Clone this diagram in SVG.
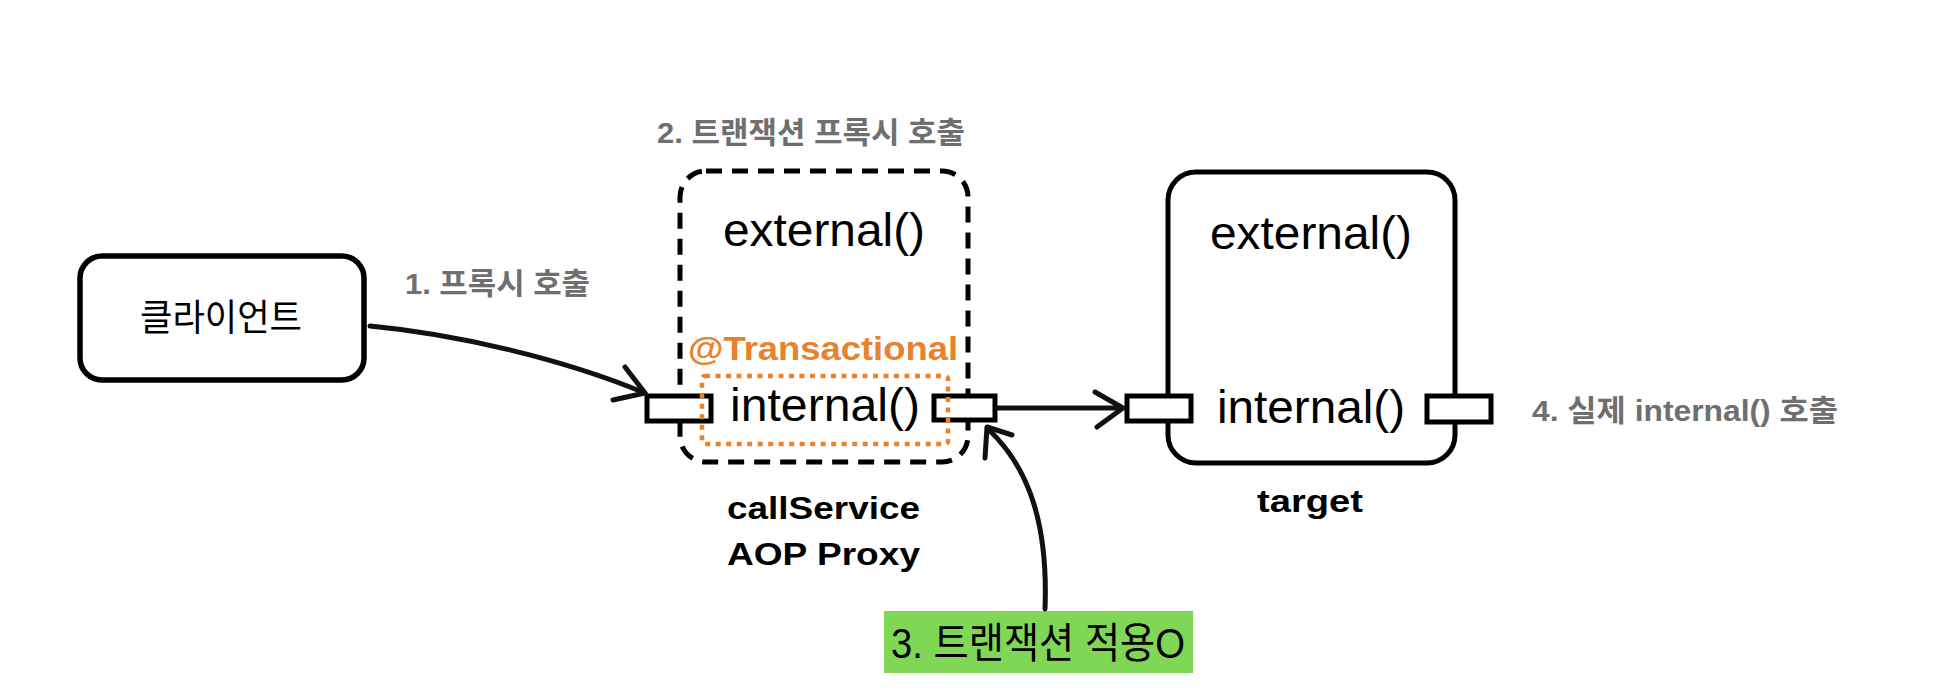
<svg xmlns="http://www.w3.org/2000/svg" width="1960" height="694" viewBox="0 0 1960 694">
<style>
.box{fill:#fff;stroke:#000;stroke-width:5.5}
.port{fill:#fff;stroke:#000;stroke-width:5}
.dash{fill:none;stroke:#000;stroke-width:5;stroke-dasharray:16 10}
.dot{fill:none;stroke:#E9822E;stroke-width:4.5;stroke-dasharray:5 5.5}
.conn{fill:none;stroke:#111;stroke-width:5;stroke-linecap:round;stroke-linejoin:round}
.m{font-family:"Liberation Sans",Arial,sans-serif;fill:#000}
.kr{font-family:"Liberation Sans","Noto Sans CJK KR",sans-serif;fill:#000}
.lbl{font-family:"Liberation Sans","Noto Sans CJK KR",sans-serif;font-weight:bold;fill:#6f6f6f}
.bold{font-family:"Liberation Sans",Arial,sans-serif;font-weight:bold;fill:#000}
</style>
<g id="client">
<rect class="box" x="80" y="256" width="284" height="124" rx="22"/>
<text class="kr" x="140" y="331" font-size="37" textLength="162" lengthAdjust="spacingAndGlyphs">클라이언트</text>
</g>
<g id="proxy">
<rect class="dash" x="680" y="171" width="288" height="291" rx="26"/>
<text class="m" x="723" y="246" font-size="46" textLength="202" lengthAdjust="spacingAndGlyphs">external()</text>
<rect class="port" x="647" y="396" width="64" height="25"/>
<rect class="port" x="934" y="396" width="61" height="24"/>
<text class="m" x="730" y="421" font-size="46" textLength="190" lengthAdjust="spacingAndGlyphs">internal()</text>
<rect class="dot" x="702" y="376" width="246" height="68" rx="3"/>
<text class="bold" x="688" y="360" font-size="34" style="fill:#E9822E" textLength="270" lengthAdjust="spacingAndGlyphs">@Transactional</text>
<text class="bold" x="727" y="519" font-size="32" textLength="193" lengthAdjust="spacingAndGlyphs">callService</text>
<text class="bold" x="727" y="565" font-size="32" textLength="193" lengthAdjust="spacingAndGlyphs">AOP Proxy</text>
</g>
<g id="target">
<rect class="box" x="1168" y="172" width="287" height="291" rx="28" style="stroke-width:5"/>
<text class="m" x="1210" y="249" font-size="46" textLength="202" lengthAdjust="spacingAndGlyphs">external()</text>
<rect class="port" x="1127" y="396" width="64" height="25"/>
<rect class="port" x="1427" y="396" width="64" height="26"/>
<text class="m" x="1217" y="423" font-size="46" textLength="188" lengthAdjust="spacingAndGlyphs">internal()</text>
<text class="bold" x="1257" y="512" font-size="32" textLength="106" lengthAdjust="spacingAndGlyphs">target</text>
</g>
<g id="note-tx">
<rect x="884" y="611" width="309" height="62" fill="#80D655"/>
<text class="kr" x="891" y="658" font-size="42" textLength="294" lengthAdjust="spacingAndGlyphs">3. 트랜잭션 적용O</text>
</g>
<g id="labels">
<text class="lbl" x="657" y="143" font-size="30" textLength="308" lengthAdjust="spacingAndGlyphs">2. 트랜잭션 프록시 호출</text>
<text class="lbl" x="405" y="294" font-size="30" textLength="185" lengthAdjust="spacingAndGlyphs">1. 프록시 호출</text>
<text class="lbl" x="1532" y="421" font-size="30" textLength="306" lengthAdjust="spacingAndGlyphs">4. 실제 internal() 호출</text>
</g>
<g id="connectors">
<path class="conn" d="M370,326 C455,334 560,358 645,393"/>
<path class="conn" d="M625,367 L645,393 L613,400"/>
<path class="conn" d="M997,408 L1121,408"/>
<path class="conn" d="M1095,392 L1123,408 L1097,427"/>
<path class="conn" d="M1045,609 C1048,530 1032,470 988,429"/>
<path class="conn" d="M1012,435 L987,427 L985,458"/>
</g>
</svg>
